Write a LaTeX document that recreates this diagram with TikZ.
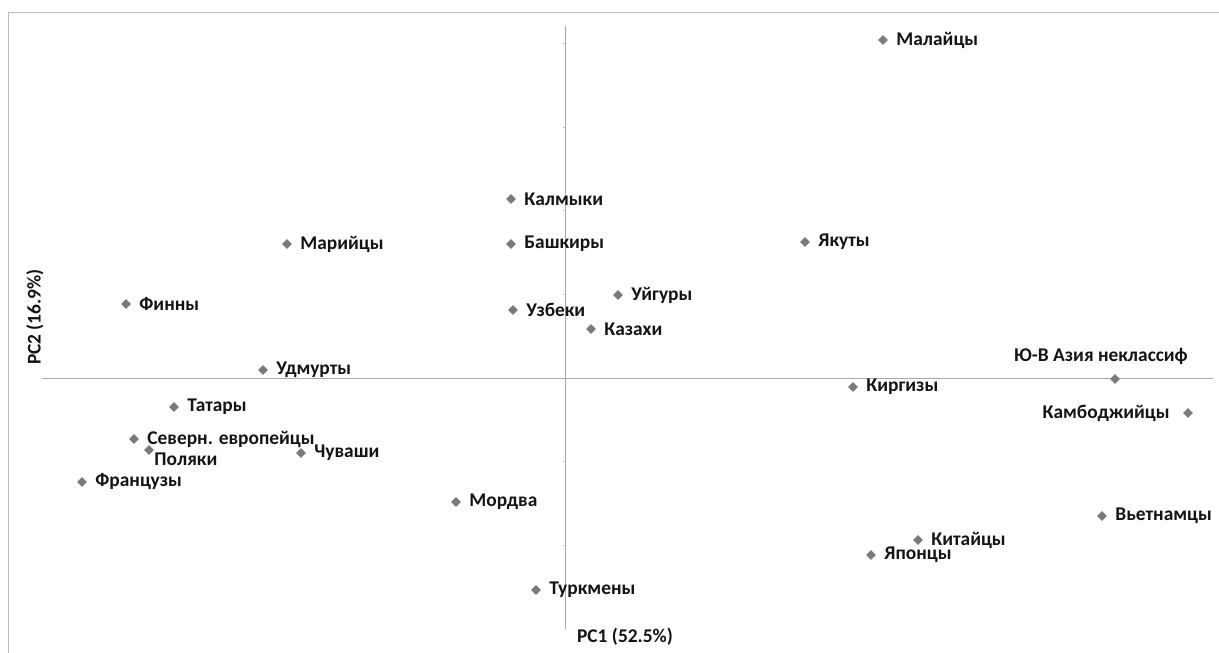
\documentclass[tikz,border=0pt]{standalone}
\usepackage{fontspec}
\setmainfont{Carlito}
\usetikzlibrary{positioning,shapes.geometric}
\definecolor{markgray}{HTML}{7A7A7A}
\definecolor{axisgray}{HTML}{A8A8A8}
\definecolor{framegray}{HTML}{BEBEBE}
\begin{document}
\begin{tikzpicture}[x=1pt,y=-1pt,
    pt/.style={diamond,fill=markgray,inner sep=0pt,minimum size=10pt},
    lbl/.style={inner sep=0pt,font=\fontsize{19.4}{21}\selectfont\bfseries,text=black!92},
    axisline/.style={draw=axisgray,line width=0.9pt}]
    \useasboundingbox (0,0) rectangle (1219,653);

    % chart frame and axes
    \draw[framegray,line width=1pt] (8,653) -- (8,12) -- (1219,12);
    \coordinate (xl) at (42,378);
    \coordinate (xr) at (1213,378);
    \coordinate (yt) at (565,26);
    \coordinate (yb) at (565,629);
    \draw[axisline] (xl) -- (xr);
    \draw[axisline] (yt) -- (yb);
    \draw[axisgray!60] (563,43) -- (565,43);
    \draw[axisgray!60] (563,127) -- (565,127);
    \draw[axisgray!60] (563,210) -- (565,210);
    \draw[axisgray!60] (563,294) -- (565,294);
    \draw[axisgray!60] (563,461) -- (565,461);
    \draw[axisgray!60] (563,545) -- (565,545);

    % axis titles
    \node[lbl,rotate=90] (pctwo) at (35,317) {PC2 (16.9\%)};
    \node[lbl] (pcone) at (625,637) {PC1 (52.5\%)};

    % points
    \node[pt] (malay) at (883,40) {};
    \node[pt] (kalm)  at (511,199) {};
    \node[pt] (bash)  at (511,244) {};
    \node[pt] (mari)  at (287,244) {};
    \node[pt] (yakut) at (805,242) {};
    \node[pt] (finn)  at (126,304) {};
    \node[pt] (uyg)   at (618,295) {};
    \node[pt] (uzb)   at (513,310) {};
    \node[pt] (kaz)   at (591,329) {};
    \node[pt] (udm)   at (263,370) {};
    \node[pt] (yva)   at (1115,379) {};
    \node[pt] (kirg)  at (853,387) {};
    \node[pt] (kamb)  at (1188,413) {};
    \node[pt] (tat)   at (174,407) {};
    \node[pt] (sevev) at (134,439) {};
    \node[pt] (pol)   at (149,450) {};
    \node[pt] (chuv)  at (301,453) {};
    \node[pt] (fran)  at (82,482) {};
    \node[pt] (mord)  at (456,502) {};
    \node[pt] (viet)  at (1102,516) {};
    \node[pt] (kit)   at (918,540) {};
    \node[pt] (yap)   at (871,555) {};
    \node[pt] (turk)  at (536,590) {};

    % labels
    \node[lbl,right=8pt of malay] (malayl) {Малайцы};
    \node[lbl,right=8pt of kalm] (kalml) {Калмыки};
    \node[lbl,right=8pt of bash] (bashl) {Башкиры};
    \node[lbl,right=8pt of mari] (maril) {Марийцы};
    \node[lbl,right=8pt of yakut] (yakutl) {Якуты};
    \node[lbl,right=8pt of finn] (finnl) {Финны};
    \node[lbl,right=8pt of uyg] (uygl) {Уйгуры};
    \node[lbl,right=8pt of uzb] (uzbl) {Узбеки};
    \node[lbl,right=8pt of kaz] (kazl) {Казахи};
    \node[lbl,right=8pt of udm] (udml) {Удмурты};
    \node[lbl,above=9pt of yva,xshift=-14pt] (yval) {Ю-В Азия неклассиф};
    \node[lbl,right=8pt of kirg] (kirgl) {Киргизы};
    \node[lbl,left=13pt of kamb] (kambl) {Камбоджийцы};
    \node[lbl,right=8pt of tat] (tatl) {Татары};
    \node[lbl,right=8pt of sevev] (seveyl) {Северн. европейцы};
    \node[lbl,right=0pt of pol,yshift=-9pt] (poll) {Поляки};
    \node[lbl,right=8pt of chuv] (chuvl) {Чуваши};
    \node[lbl,right=8pt of fran] (franl) {Французы};
    \node[lbl,right=8pt of mord] (mordl) {Мордва};
    \node[lbl,right=8pt of viet] (vietl) {Вьетнамцы};
    \node[lbl,right=8pt of kit] (kitl) {Китайцы};
    \node[lbl,right=8pt of yap] (yapl) {Японцы};
    \node[lbl,right=8pt of turk] (turkl) {Туркмены};
\end{tikzpicture}
\end{document}
